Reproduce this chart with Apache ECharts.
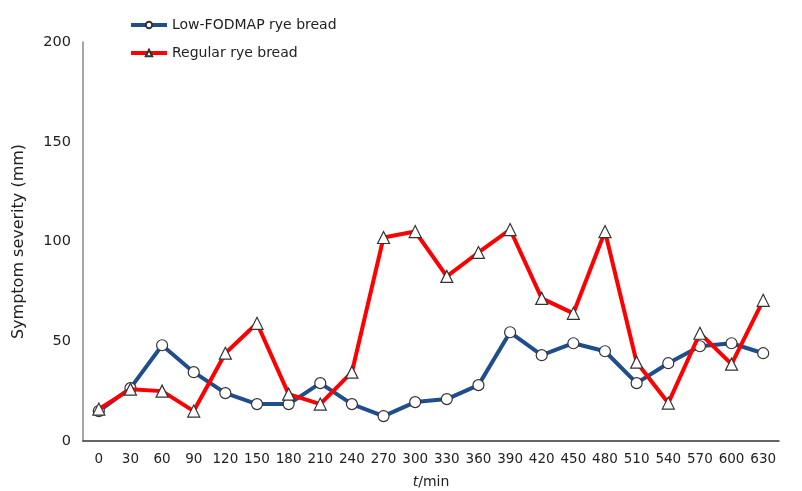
<!DOCTYPE html>
<html>
<head>
<meta charset="utf-8">
<script src="https://cdn.jsdelivr.net/npm/echarts@6/dist/echarts.min.js"></script>
<style>
  html, body { margin: 0; padding: 0; background: #fff; }
  #chart { width: 802px; height: 491px; }
</style>
</head>
<body>
<div id="chart"></div>
<script>
// 时间点 (min)
var times = ['0', '30', '60', '90', '120', '150', '180', '210', '240', '270', '300',
             '330', '360', '390', '420', '450', '480', '510', '540', '570', '600', '630'];

// 低FODMAP黑麦面包
var lowFodmap = [15, 26.5, 48, 34.5, 24, 18.5, 18.5, 29, 18.5, 12.5, 19.5,
                 21, 28, 54.5, 43, 49, 45, 29, 39, 47.5, 49, 44];

// 普通黑麦面包
var regular = [16, 26, 25, 15, 44, 59, 23.5, 18.5, 34.5, 102, 105,
               82.5, 94.5, 106, 71.5, 64, 105, 39.5, 19, 54, 38.5, 70.5];

var yTicks = [0, 50, 100, 150, 200];

var font = 'DejaVu Sans';

var myChart = echarts.init(document.getElementById('chart'));

var option = {
    backgroundColor: '#fff',
    animation: false,
    textStyle: { fontFamily: font },
    legend: {
        orient: 'vertical',
        left: 124,
        top: 13,
        itemWidth: 36,
        itemHeight: 8,
        itemGap: 14,
        lineStyle: { width: 4 },
        textStyle: { fontFamily: font, fontSize: 14, color: '#222' },
        data: ['Low-FODMAP rye bread', 'Regular rye bread']
    },
    grid: { left: 83, right: 23, top: 42, bottom: 50, outerBoundsMode: 'none' },
    xAxis: {
        type: 'category',
        data: times,
        boundaryGap: true,
        name: '{i|t}/min',
        nameLocation: 'middle',
        nameGap: 34,
        nameTextStyle: {
            fontFamily: font, fontSize: 14, color: '#222',
            rich: { i: { fontStyle: 'italic', fontFamily: font, fontSize: 14, color: '#222' } }
        },
        axisLine: { lineStyle: { color: '#333', width: 1.5 } },
        axisTick: { show: false },
        axisLabel: { fontFamily: font, fontSize: 13.5, color: '#222', margin: 11, interval: 0 },
        splitLine: { show: false }
    },
    yAxis: {
        type: 'value',
        min: yTicks[0],
        max: yTicks[yTicks.length - 1],
        interval: 50,
        name: 'Symptom severity (mm)',
        nameLocation: 'middle',
        nameGap: 56,
        nameTextStyle: { fontFamily: font, fontSize: 16, color: '#222' },
        axisLine: { show: true, lineStyle: { color: '#888', width: 1.5 } },
        axisTick: { show: false },
        axisLabel: { fontFamily: font, fontSize: 14.5, color: '#222', margin: 12 },
        splitLine: { show: false }
    },
    series: [
        {
            name: 'Low-FODMAP rye bread',
            type: 'line',
            data: lowFodmap,
            symbol: 'circle',
            symbolSize: 11,
            showAllSymbol: true,
            lineStyle: { color: '#1f4e8c', width: 4 },
            itemStyle: { color: '#fff', borderColor: '#333', borderWidth: 1.2 },
            z: 2
        },
        {
            name: 'Regular rye bread',
            type: 'line',
            data: regular,
            symbol: 'triangle',
            symbolSize: 12,
            showAllSymbol: true,
            lineStyle: { color: '#ff0000', width: 4 },
            itemStyle: { color: '#fff', borderColor: '#333', borderWidth: 1.2 },
            z: 3
        }
    ]
};

myChart.setOption(option);
</script>
</body>
</html>
